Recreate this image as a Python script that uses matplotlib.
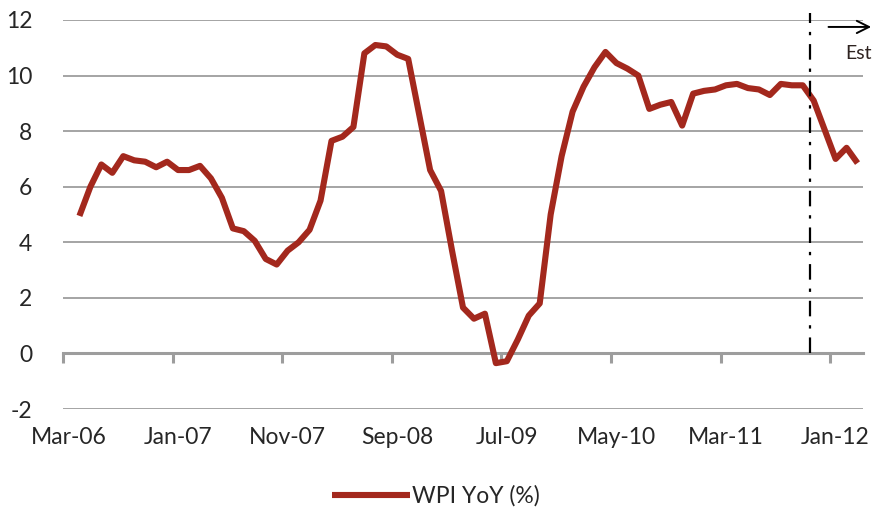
import numpy as np
import pandas as pd
import matplotlib
matplotlib.use("Agg")
import matplotlib.pyplot as plt

plt.rcParams['font.family'] = ['Lato', 'DejaVu Sans']

# monthly categories Mar-06 .. Mar-12, first month has no value
months = pd.date_range("2006-03-01", "2012-03-01", freq="MS")
month_labels = [d.strftime("%b-%y") for d in months]

wpi_yoy = [np.nan,
           4.95, 6.0, 6.8, 6.5, 7.1, 6.95, 6.9, 6.7, 6.9, 6.6,
           6.6, 6.75, 6.3, 5.6, 4.5, 4.4, 4.05, 3.4, 3.2, 3.7,
           4.0, 4.45, 5.5, 7.65, 7.8, 8.15, 10.8, 11.1, 11.05, 10.75,
           10.6, 8.6, 6.6, 5.85, 3.7, 1.65, 1.25, 1.43, -0.35, -0.28,
           0.5, 1.36, 1.8, 5.0, 7.1, 8.7, 9.6, 10.3, 10.85, 10.45,
           10.25, 10.0, 8.8, 8.95, 9.05, 8.2, 9.35, 9.45, 9.5, 9.65,
           9.7, 9.55, 9.5, 9.3, 9.7, 9.65, 9.65, 9.1, 8.05, 7.0,
           7.4, 6.85]

estimate_start = 67.7   # category position of the dashed marker
label_step = 10

line_color = '#a3281d'
grid_color = '#9d9d9d'
text_color = '#262626'

x = np.arange(len(months))

fig = plt.figure(figsize=(8.72, 5.12), dpi=100)
ax = fig.add_axes([63 / 872, 1 - 409 / 512, 800 / 872, 389 / 512])

ax.set_xlim(-0.5, len(months) - 0.5)
ax.set_ylim(-2, 12)

for s in ax.spines.values():
    s.set_visible(False)

yt = np.arange(-2, 13, 2)
ax.set_yticks(yt)
ax.set_yticklabels([str(v) for v in yt])
for v in yt:
    if v != 0:
        ax.axhline(v, color=grid_color, lw=1.3, zorder=0)

ax.set_xticks(x[::label_step])
ax.set_xticklabels(month_labels[::label_step])
ax.tick_params(axis='both', length=0, labelsize=16.5, labelcolor=text_color)
ax.tick_params(axis='y', pad=22)
ax.tick_params(axis='x', pad=13)

# zero line with tick marks at category boundaries
zx = ax.secondary_xaxis(2 / 14)
zx.spines['bottom'].set_color(grid_color)
zx.spines['bottom'].set_linewidth(2.2)
zx.set_xticks(np.arange(-0.5, len(months) - 1, label_step))
zx.tick_params(axis='x', direction='out', length=7, width=2.2,
               color=grid_color, labelbottom=False)

ax.plot(x, wpi_yoy, color=line_color, lw=4.4, solid_joinstyle='round',
        solid_capstyle='butt', label='WPI YoY (%)', zorder=3)

ax.plot([estimate_start, estimate_start], [0, 12.25], color='black', lw=1.6,
        linestyle=(0, (7, 4, 1.5, 4)), zorder=4, clip_on=False)

ax.annotate('', xy=(73.5, 11.75), xytext=(69.1, 11.75),
            arrowprops=dict(arrowstyle='->', color='black', lw=1.4,
                            mutation_scale=22),
            annotation_clip=False)
ax.text(70.85, 10.8, 'Est', fontsize=14, color='#2e2320',
        ha='left', va='center', clip_on=False)

fig.legend(loc='center', bbox_to_anchor=(0.5, 1 - 496 / 512), frameon=False,
           fontsize=16.5, handlelength=3.4, handletextpad=0.1,
           labelcolor=text_color)

fig.savefig('out.png', dpi=100)
